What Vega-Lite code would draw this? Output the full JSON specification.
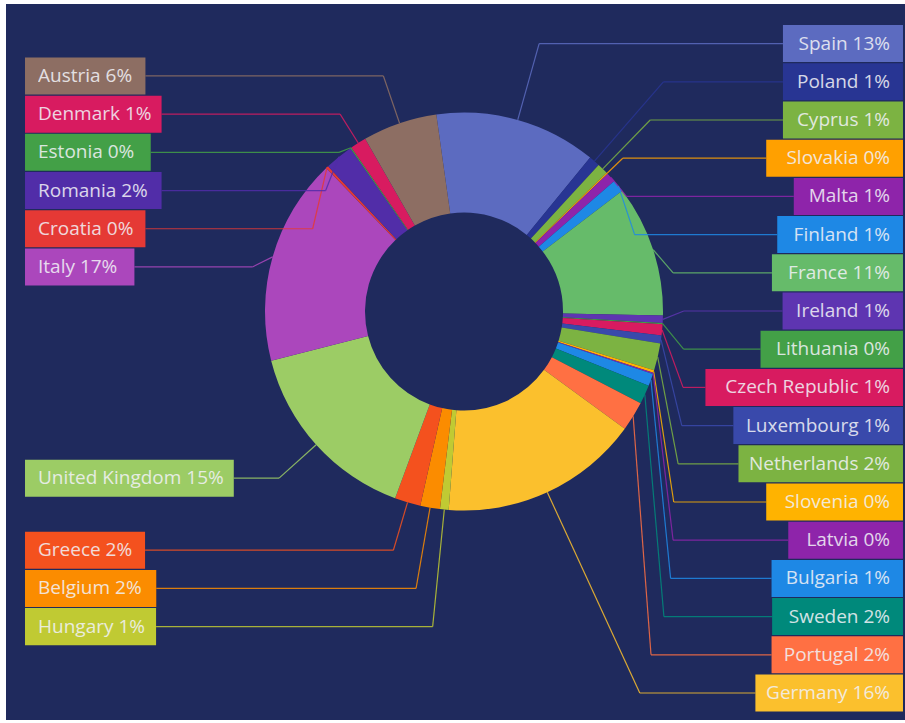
{
  "$schema": "https://vega.github.io/schema/vega-lite/v6.json",
  "width": 899,
  "height": 716,
  "autosize": {"type": "none"},
  "padding": {"left": 6, "top": 4, "right": 0, "bottom": 3},
  "background": "#ffffff",
  "config": {
    "view": {"stroke": null, "fill": "#1f2a5d"},
    "text": {"font": "Open Sans", "fontSize": 19}
  },
  "data": {
    "values": [
      {"country": "Spain", "share": 13.15},
      {"country": "Poland", "share": 0.9},
      {"country": "Cyprus", "share": 0.9},
      {"country": "Slovakia", "share": 0.1},
      {"country": "Malta", "share": 0.8},
      {"country": "Finland", "share": 1.0},
      {"country": "France", "share": 10.7},
      {"country": "Ireland", "share": 0.6},
      {"country": "Lithuania", "share": 0.1},
      {"country": "Czech Republic", "share": 0.9},
      {"country": "Luxembourg", "share": 0.65},
      {"country": "Netherlands", "share": 2.2},
      {"country": "Slovenia", "share": 0.2},
      {"country": "Latvia", "share": 0.1},
      {"country": "Bulgaria", "share": 1.0},
      {"country": "Sweden", "share": 1.55},
      {"country": "Portugal", "share": 2.4},
      {"country": "Germany", "share": 16.2},
      {"country": "Hungary", "share": 0.7},
      {"country": "Belgium", "share": 1.6},
      {"country": "Greece", "share": 2.1},
      {"country": "United Kingdom", "share": 15.4},
      {"country": "Italy", "share": 16.8},
      {"country": "Croatia", "share": 0.2},
      {"country": "Romania", "share": 2.3},
      {"country": "Estonia", "share": 0.1},
      {"country": "Denmark", "share": 1.3},
      {"country": "Austria", "share": 6.05}
    ]
  },
  "transform": [
    {"window": [{"op": "row_number", "as": "idx"}]},
    {"joinaggregate": [{"op": "sum", "field": "share", "as": "total"}]},
    {"window": [{"op": "sum", "field": "share", "as": "cum"}], "sort": [{"field": "idx"}], "frame": [null, 0]},
    {"calculate": "-8*PI/180 + 2*PI*(datum.cum - datum.share)/datum.total", "as": "a0"},
    {"calculate": "-8*PI/180 + 2*PI*datum.cum/datum.total", "as": "a1"},
    {"calculate": "(datum.a0 + datum.a1)/2", "as": "mid"},
    {"calculate": "sin(datum.mid) >= 0 ? 'R' : 'L'", "as": "side"},
    {"calculate": "datum.side == 'R' ? datum.mid : -datum.mid", "as": "key"},
    {"calculate": "clamp(-1.251*cos(datum.mid), -1.3442, 1.9171)", "as": "wn"},
    {"window": [{"op": "row_number", "as": "k"}], "groupby": ["side"], "sort": [{"field": "key"}]},
    {"calculate": "datum.wn - 0.19196*datum.k", "as": "t"},
    {"window": [{"op": "max", "field": "t", "as": "tmax"}], "groupby": ["side"], "sort": [{"field": "key"}], "frame": [null, 0]},
    {"joinaggregate": [{"op": "count", "as": "n"}], "groupby": ["side"]},
    {"window": [{"op": "min", "field": "tmax", "as": "smin"}], "groupby": ["side"], "sort": [{"field": "key"}], "frame": [0, null]},
    {"calculate": "min(datum.smin, 1.9171 - 0.19196*datum.n) + 0.19196*datum.k", "as": "wl"},
    {"calculate": "sin(datum.mid)", "as": "x0"},
    {"calculate": "-cos(datum.mid)", "as": "w0"},
    {"calculate": "abs(cos(datum.mid)) > 0.643 ? max(1.1055, -datum.wl/cos(datum.mid)) : 1.1055", "as": "rr"},
    {"calculate": "datum.rr*sin(datum.mid)", "as": "xe"},
    {"calculate": "datum.country + ' ' + format(datum.share, '.0f') + '%'", "as": "label"},
    {"calculate": "length(replace(datum.label, regexp('[^mwMW%]', 'g'), ''))", "as": "nWide"},
    {"calculate": "length(replace(datum.label, regexp('[^iltfjrI ]', 'g'), ''))", "as": "nNarrow"},
    {"calculate": "(26 + 19*(0.87*datum.nWide + 0.3*datum.nNarrow + 0.58*(length(datum.label) - datum.nWide - datum.nNarrow)))/199", "as": "bw"},
    {"calculate": "datum.side == 'R' ? 2.206 : -2.206", "as": "xedge"},
    {"calculate": "datum.side == 'R' ? 2.206 - datum.bw : -2.206 + datum.bw", "as": "xb"},
    {"calculate": "datum.side == 'R' ? 2.206 - 0.0653 : -2.206 + 0.0653", "as": "xt"},
    {"calculate": "datum.wl - 0.093", "as": "wt"},
    {"calculate": "datum.wl + 0.093", "as": "wb"}
  ],
  "encoding": {
    "color": {
      "field": "country",
      "type": "nominal",
      "legend": null,
      "scale": {
        "domain": ["Spain", "Poland", "Cyprus", "Slovakia", "Malta", "Finland", "France", "Ireland", "Lithuania", "Czech Republic", "Luxembourg", "Netherlands", "Slovenia", "Latvia", "Bulgaria", "Sweden", "Portugal", "Germany", "Hungary", "Belgium", "Greece", "United Kingdom", "Italy", "Croatia", "Romania", "Estonia", "Denmark", "Austria"],
        "range": ["#5c6bc0", "#283593", "#7cb342", "#ffa000", "#8e24aa", "#1e88e5", "#66bb6a", "#5e35b1", "#43a047", "#d81b60", "#3949ab", "#7cb342", "#ffb300", "#8e24aa", "#1e88e5", "#00897b", "#ff7043", "#fbc02d", "#c0ca33", "#fb8c00", "#f4511e", "#9ccc65", "#ab47bc", "#e53935", "#512da8", "#43a047", "#d81b60", "#8d6e63"]
      }
    }
  },
  "layer": [
    {
      "mark": {"type": "arc", "outerRadius": 199, "innerRadius": 99},
      "encoding": {
        "x": {"datum": 0, "type": "quantitative", "scale": {"domain": [-2.30151, 2.21608], "nice": false, "zero": false}, "axis": null},
        "y": {"datum": 0, "type": "quantitative", "scale": {"domain": [-1.54523, 2.05276], "nice": false, "zero": false, "reverse": true}, "axis": null},
        "theta": {"field": "a0", "type": "quantitative", "stack": null, "scale": {"type": "linear", "domain": [0, 6.283185307], "range": [0, 6.283185307], "zero": false, "nice": false}},
        "theta2": {"field": "a1"}
      }
    },
    {
      "mark": {"type": "rule", "strokeWidth": 1.2, "opacity": 0.85},
      "encoding": {
        "x": {"field": "x0", "type": "quantitative", "scale": {"domain": [-2.30151, 2.21608], "nice": false, "zero": false}, "axis": null},
        "y": {"field": "w0", "type": "quantitative", "scale": {"domain": [-1.54523, 2.05276], "nice": false, "zero": false, "reverse": true}, "axis": null},
        "x2": {"field": "xe"},
        "y2": {"field": "wl"}
      }
    },
    {
      "mark": {"type": "rule", "strokeWidth": 1.2, "opacity": 0.85},
      "encoding": {
        "x": {"field": "xe", "type": "quantitative", "scale": {"domain": [-2.30151, 2.21608], "nice": false, "zero": false}, "axis": null},
        "y": {"field": "wl", "type": "quantitative", "scale": {"domain": [-1.54523, 2.05276], "nice": false, "zero": false, "reverse": true}, "axis": null},
        "x2": {"field": "xb"}
      }
    },
    {
      "mark": {"type": "rect"},
      "encoding": {
        "x": {"field": "xb", "type": "quantitative", "scale": {"domain": [-2.30151, 2.21608], "nice": false, "zero": false}, "axis": null},
        "x2": {"field": "xedge"},
        "y": {"field": "wt", "type": "quantitative", "scale": {"domain": [-1.54523, 2.05276], "nice": false, "zero": false, "reverse": true}, "axis": null},
        "y2": {"field": "wb"}
      }
    },
    {
      "transform": [{"filter": "datum.side == 'R'"}],
      "mark": {"type": "text", "align": "right", "baseline": "middle"},
      "encoding": {
        "x": {"field": "xt", "type": "quantitative", "scale": {"domain": [-2.30151, 2.21608], "nice": false, "zero": false}, "axis": null},
        "y": {"field": "wl", "type": "quantitative", "scale": {"domain": [-1.54523, 2.05276], "nice": false, "zero": false, "reverse": true}, "axis": null},
        "text": {"field": "label"},
        "color": {"value": "#f2f2f7"},
        "opacity": {"value": 0.86}
      }
    },
    {
      "transform": [{"filter": "datum.side == 'L'"}],
      "mark": {"type": "text", "align": "left", "baseline": "middle"},
      "encoding": {
        "x": {"field": "xt", "type": "quantitative", "scale": {"domain": [-2.30151, 2.21608], "nice": false, "zero": false}, "axis": null},
        "y": {"field": "wl", "type": "quantitative", "scale": {"domain": [-1.54523, 2.05276], "nice": false, "zero": false, "reverse": true}, "axis": null},
        "text": {"field": "label"},
        "color": {"value": "#f2f2f7"},
        "opacity": {"value": 0.86}
      }
    }
  ]
}
